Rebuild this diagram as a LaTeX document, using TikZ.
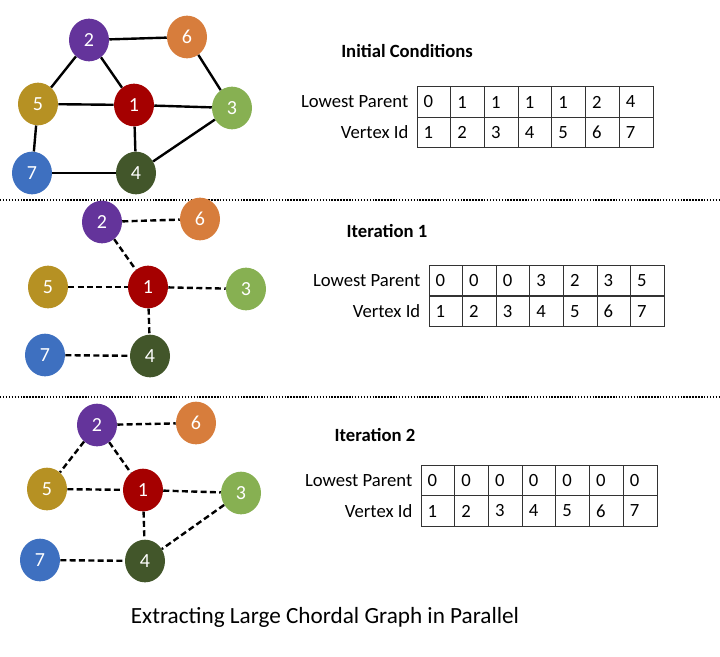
\documentclass[tikz,border=0pt]{standalone}
\usepackage{fontspec}
\setmainfont{Carlito}
\usetikzlibrary{shapes.geometric}
\usetikzlibrary{positioning}

\definecolor{vred}{RGB}{165,0,0}
\definecolor{vpurple}{RGB}{100,52,155}
\definecolor{vorange}{RGB}{215,125,60}
\definecolor{vgold}{RGB}{182,145,35}
\definecolor{vlime}{RGB}{135,176,82}
\definecolor{vblue}{RGB}{62,112,192}
\definecolor{vforest}{RGB}{66,86,42}

\tikzset{
  vertex/.style={ellipse, minimum width=30pt, minimum height=32pt, inner sep=0pt,
    text=white, font=\fontsize{15}{15}\selectfont},
  edgeline/.style={line width=1.8pt},
  dashedge/.style={line width=1.8pt, dash pattern=on 4.5pt off 2.5pt},
  divider/.style={line width=1.5pt, dash pattern=on 1.1pt off 1.1pt},
  cell/.style={draw=black!80, line width=0.6pt, minimum height=22.9pt, text width=15.3pt,
    inner xsep=5pt, align=left, font=\fontsize{14}{14}\selectfont},
  rowlabel/.style={inner sep=0pt, font=\fontsize{14}{14}\selectfont},
  heading/.style={font=\fontsize{14}{14}\selectfont\bfseries}
}

\begin{document}
\begin{tikzpicture}[x=0.75pt,y=-0.75pt]
  \useasboundingbox (0,0) rectangle (720,656);

  %% Initial conditions: full graph
  \foreach \n/\x/\y/\c in {1/134/105/vred, 2/89/40/vpurple, 3/232/108/vlime, 4/136/173/vforest,
      5/38/104/vgold, 6/187/37/vorange, 7/32/173/vblue}
    \node[vertex, fill=\c] (a\n) at (\x,\y) {\n};
  \foreach \s/\t in {2/6, 2/5, 2/1, 6/3, 5/1, 1/3, 5/7, 1/4, 3/4, 7/4}
    \draw[edgeline] (a\s) -- (a\t);

  \node[heading] (ahead) at (407,51) {Initial Conditions};
  \foreach \v [count=\i] in {0,1,1,1,1,2,4} {
    \node[cell] (ap\i) at ({417+(\i-0.5)*33.7},102) {\v};
    \node[cell] (av\i) at ({417+(\i-0.5)*33.7},132.5) {\i};
  }
  \node[rowlabel, left=6pt of ap1] (aplabel) {Lowest Parent};
  \node[rowlabel, left=6pt of av1] (avlabel) {Vertex Id};

  \coordinate (d1l) at (0,200);
  \coordinate (d1r) at (720,200);
  \draw[divider] (d1l) -- (d1r);

  %% Iteration 1
  \foreach \n/\x/\y/\c in {1/148/287/vred, 2/102/222/vpurple, 3/246/289/vlime, 4/150/356/vforest,
      5/48/287/vgold, 6/200/219/vorange, 7/45/355/vblue}
    \node[vertex, fill=\c] (b\n) at (\x,\y) {\n};
  \foreach \s/\t in {2/6, 2/1, 5/1, 1/3, 1/4, 7/4}
    \draw[dashedge] (b\s) -- (b\t);

  \node[heading] (bhead) at (387,231) {Iteration 1};
  \foreach \v [count=\i] in {0,0,0,3,2,3,5} {
    \node[cell] (bp\i) at ({429+(\i-0.5)*33.6},280.5) {\v};
    \node[cell] (bv\i) at ({429+(\i-0.5)*33.6},311.5) {\i};
  }
  \node[rowlabel, left=6pt of bp1] (bplabel) {Lowest Parent};
  \node[rowlabel, left=6pt of bv1] (bvlabel) {Vertex Id};

  \coordinate (d2l) at (0,397);
  \coordinate (d2r) at (720,397);
  \draw[divider] (d2l) -- (d2r);

  %% Iteration 2
  \foreach \n/\x/\y/\c in {1/143/490/vred, 2/97/425/vpurple, 3/241/493/vlime, 4/145/561/vforest,
      5/47/489/vgold, 6/196/423/vorange, 7/40/560/vblue}
    \node[vertex, fill=\c] (c\n) at (\x,\y) {\n};
  \foreach \s/\t in {2/6, 2/5, 2/1, 5/1, 1/3, 1/4, 3/4, 7/4}
    \draw[dashedge] (c\s) -- (c\t);

  \node[heading] (chead) at (375,435) {Iteration 2};
  \foreach \v [count=\i] in {0,0,0,0,0,0,0} {
    \node[cell] (cp\i) at ({421+(\i-0.5)*33.7},480.5) {\v};
    \node[cell] (cv\i) at ({421+(\i-0.5)*33.7},511) {\i};
  }
  \node[rowlabel, left=6pt of cp1] (cplabel) {Lowest Parent};
  \node[rowlabel, left=6pt of cv1] (cvlabel) {Vertex Id};

  \node[font=\fontsize{17.4}{17.4}\selectfont] (caption) at (325,617) {Extracting Large Chordal Graph in Parallel};
\end{tikzpicture}
\end{document}
